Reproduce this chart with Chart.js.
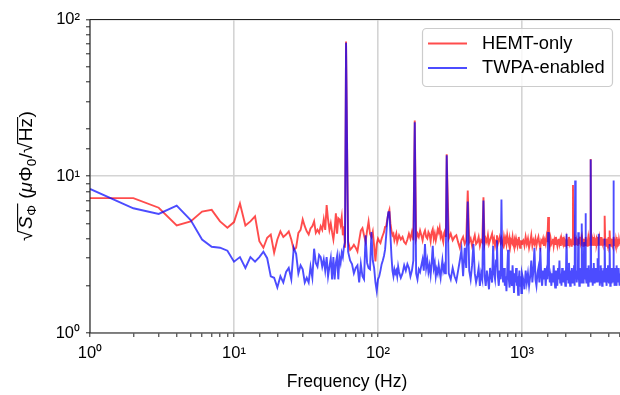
<!DOCTYPE html>
<html><head><meta charset="utf-8">
<script src="https://cdn.jsdelivr.net/npm/chart.js@4.4.1/dist/chart.umd.min.js"></script>
<style>html,body{margin:0;padding:0;background:#fff;}</style>
</head><body>
<canvas id="c" width="620" height="395"></canvas>
<script>
// Frequency bins (Hz)
const freqs = [
1,2,3,4,5,6,7,8,9,10,11,12,13,14,15,16,17,18,19,20,21,22,23,24,25,26,27,28,29,30,
31,32,33,34,35,36,37,38,39,40,41,42,43,44,45,46,47,48,49,50,51,52,53,54,55,56,57,58,59,60,
62,64,66,68,70,72,74,76,78,80,82,84,86,88,90,92,94,96,98,100,
102,104,106,108,110,112,114,116,118,120,122,124,126,128,130,132,134,136,138,140,
144,148,152,156,160,164,168,172,176,180,184,188,192,196,200,204,208,212,216,220,
224,228,232,236,240,244,248,252,256,260,264,268,272,276,280,284,288,292,296,300,
310,320,330,340,350,360,370,380,390,400,410,420,430,440,450,460,470,480,490,500,
510,520,530,540,550,560,570,580,590,600,610,620,630,640,650,660,670,680,690,700,
710,720,730,740,750,760,770,780,790,800,810,820,830,840,850,860,870,880,890,900,
910,920,930,940,950,960,970,980,990,1000,
1020,1040,1060,1080,1100,1120,1140,1160,1180,1200,1220,1240,1260,1280,1300,1320,1340,1360,1380,1400,
1420,1440,1460,1480,1500,1520,1540,1560,1580,1600,1620,1640,1660,1680,1700,1720,1740,1760,1780,1800,
1820,1840,1860,1880,1900,1920,1940,1960,1980,2000,2020,2040,2060,2080,2100,2120,2140,2160,2180,2200,
2220,2240,2260,2280,2300,2320,2340,2360,2380,2400,2420,2440,2460,2480,2500,2520,2540,2560,2580,2600,
2620,2640,2660,2680,2700,2720,2740,2760,2780,2800,2820,2840,2860,2880,2900,2920,2940,2960,2980,3000,
3020,3040,3060,3080,3100,3120,3140,3160,3180,3200,3220,3240,3260,3280,3300,3320,3340,3360,3380,3400,
3420,3440,3460,3480,3500,3520,3540,3560,3580,3600,3620,3640,3660,3680,3700,3720,3740,3760,3780,3800,
3820,3840,3860,3880,3900,3920,3940,3960,3980,4000,4020,4040,4060,4080,4100,4120,4140,4160,4180,4200,
4220,4240,4260,4280,4300,4320,4340,4360,4380,4400,4420,4440,4460,4480,4500,4520,4540,4560,4580,4600,
4620,4640,4660,4680,4700,4720,4740,4760,4780
];

// HEMT-only noise (muPhi0/sqrt(Hz))
const hemtOnly = [
7.25,7.25,6.3,4.85,5.15,5.95,6.1,5.15,4.7,5.1,
6.7,4.85,5.15,5.55,3.85,3.5,4.05,4.25,3.25,3.95,
4.45,4.1,4.25,4.45,3.95,3.4,3.5,4.35,4.55,5.3,
4.8,4.45,4.25,4.65,4.8,5.15,4.35,4.55,4.35,4.8,
4.55,5.3,4.55,6.55,5.3,4.55,5.0,4.4,3.95,4.6,
5.8,4.3,5.4,5.3,4.9,5.5,4.2,4.8,3.5,72.5,
3.83,3.39,3.5,3.65,3.5,3.31,3.9,4.5,4.67,4.2,
3.83,4.5,5.14,4.3,4.1,4.44,3.6,2.86,3.7,4.0,
3.85,3.75,4.0,4.2,4.4,4.75,4.8,5.3,5.8,6.1,
5.0,4.5,4.2,4.3,3.9,4.1,4.3,3.8,4.0,4.2,
3.95,4.1,3.8,3.7,3.95,4.3,4.0,4.4,3.9,22.7,
4.0,4.3,4.1,4.5,4.2,3.9,4.3,4.5,4.1,4.0,
4.4,4.25,3.85,4.4,4.6,4.0,4.3,3.9,4.2,4.6,
4.4,4.7,4.1,4.3,4.0,3.8,4.35,4.5,4.1,13.8,
4.0,4.3,3.9,4.1,4.2,3.8,3.5,3.9,4.1,3.7,
3.9,8.1,3.8,4.0,3.6,3.9,4.2,3.7,3.8,4.1,
3.6,3.9,3.8,7.35,3.7,4.0,3.8,4.2,3.7,3.9,
4.1,4.3,3.8,4.0,3.6,3.9,4.2,3.7,3.9,4.1,
3.8,4.0,3.7,3.6,4.1,3.8,4.0,3.7,4.2,3.9,
3.7,4.0,3.6,3.9,3.8,4.1,3.7,3.55,3.9,3.7,
4.0,3.8,3.6,3.9,4.1,3.7,3.5,3.9,3.7,3.8,
3.9,3.6,4.1,3.7,4.0,3.5,3.8,4.2,3.6,3.9,
3.7,4.0,3.6,3.9,4.1,3.7,3.5,3.9,3.8,4.0,
3.6,3.9,3.7,4.1,3.8,5.5,3.9,3.6,4.0,3.7,
3.8,4.0,3.6,3.9,3.7,4.1,3.8,3.6,3.9,4.0,
3.7,3.9,3.6,4.0,3.8,3.7,4.1,3.6,3.9,3.8,
3.7,4.0,3.8,3.6,3.9,4.1,3.7,3.8,4.0,3.6,
3.9,3.7,8.8,3.8,4.0,3.6,4.1,3.8,3.7,3.9,
3.8,3.6,4.0,3.7,3.9,3.8,4.1,3.6,3.9,3.7,
4.0,3.8,3.6,3.9,3.7,4.0,3.8,3.6,4.1,3.7,
3.9,3.6,3.8,4.0,3.7,3.9,3.6,3.8,4.0,12.9,
3.8,3.6,4.0,3.7,3.9,3.8,3.6,4.1,3.7,3.9,
3.8,3.6,3.9,4.0,3.7,3.8,3.6,4.1,3.9,3.7,
3.8,4.0,3.6,3.9,3.7,3.8,4.1,3.6,3.9,3.8,
3.7,4.0,3.8,3.6,3.9,3.7,3.8,5.6,4.0,3.7,
3.9,3.6,3.8,4.0,3.7,3.9,3.6,3.8,4.1,3.7,
3.8,3.6,3.9,4.5,3.7,3.8,4.0,3.6,3.9,3.8,
3.7,4.0,3.6,3.8,3.9,3.7,4.1,3.8,3.6,3.9,
3.8,3.7,4.0,3.6,3.9,3.8,3.7,4.1,3.6,3.8,
3.9,3.7,3.8,4.0,3.6,3.9,3.7,3.8,4.0
];

// TWPA-enabled noise (muPhi0/sqrt(Hz))
const twpaEnabled = [
8.3,6.25,5.75,6.5,5.25,3.95,3.55,3.5,3.35,2.85,
3.05,2.6,3.05,2.85,3.05,3.3,3.0,2.3,2.25,1.95,
2.3,2.1,2.45,2.6,2.2,3.5,3.2,2.4,2.7,2.55,
2.1,2.25,2.1,2.65,2.25,3.45,2.8,2.65,3.15,3.05,
2.65,2.95,2.5,3.05,2.3,2.65,3.0,2.2,3.05,2.2,
2.8,3.1,2.2,3.05,2.8,3.25,3.05,3.55,3.8,71,
3.3,2.9,2.75,2.4,2.6,2.7,2.1,2.75,2.3,2.2,
4.2,2.8,2.6,2.55,4.4,2.9,2.6,2.1,1.85,2.2,
2.3,2.5,2.75,2.9,3.1,3.4,4.2,5.2,5.9,5.9,
4.2,3.1,2.5,2.3,2.55,2.4,2.5,2.3,2.65,2.45,
2.25,2.4,2.7,2.5,2.75,2.6,2.3,2.5,2.9,22.1,
2.4,2.2,2.55,2.45,2.7,2.95,2.5,3.7,2.6,2.9,
2.45,2.7,2.35,2.8,3.6,2.6,2.8,2.3,2.55,2.4,
2.7,2.45,2.25,2.6,2.9,2.5,2.65,2.4,3.1,13.6,
2.4,2.2,2.6,2.3,2.15,2.5,2.9,3.4,2.3,3.5,
2.6,6.9,2.5,2.2,2.7,3.7,2.4,2.1,2.3,2.6,
2.0,2.4,2.2,7.0,2.3,2.0,2.5,2.2,1.9,2.6,
2.3,2.1,3.6,2.4,2.2,2.9,3.9,2.3,2.0,2.5,
2.2,7.1,2.4,2.1,2.6,2.0,2.3,1.85,2.5,3.4,
2.2,1.95,2.5,2.3,2.0,2.7,2.2,1.8,2.4,2.1,
2.6,2.0,2.3,1.75,2.2,2.5,2.0,2.3,1.8,2.4,
2.2,1.9,2.5,2.1,2.4,2.0,2.3,2.9,2.1,2.5,
3.5,2.2,2.0,2.4,2.6,2.1,3.5,2.3,2.0,2.5,
2.2,2.6,2.0,2.4,2.2,4.4,2.5,2.1,2.3,2.0,
2.4,2.1,2.7,2.2,1.95,2.5,2.3,2.0,2.6,2.2,
2.9,2.1,2.4,2.0,2.6,2.3,2.1,2.5,2.2,2.0,
2.4,4.3,2.2,2.6,2.1,2.8,2.3,2.0,2.5,2.2,
2.6,2.1,2.4,2.2,2.7,2.0,9.4,2.3,2.5,2.1,
2.4,2.2,4.4,2.3,2.0,2.6,2.2,2.5,2.1,5.0,
2.3,2.6,2.1,2.4,3.8,2.2,2.5,5.8,2.3,2.1,
2.6,2.2,2.4,2.0,2.7,2.3,2.1,2.5,2.2,12.8,
2.4,2.1,2.6,2.3,2.0,2.5,2.2,2.8,2.1,2.4,
2.3,2.6,2.1,2.4,2.2,2.5,3.0,2.1,2.3,4.3,
2.2,2.5,2.0,2.4,2.2,2.7,2.1,2.3,2.6,2.0,
2.4,2.2,2.5,2.1,2.3,2.6,2.2,4.0,2.4,2.1,
2.5,2.2,2.0,2.6,2.3,2.1,2.4,2.7,2.2,2.5,
2.1,2.4,2.2,3.7,2.0,2.5,2.3,2.1,2.6,2.2,
2.4,2.2,2.6,2.1,2.3,9.4,2.5,2.2,2.0,2.4,
2.3,2.6,2.1,2.5,2.2,2.4,2.0,2.7,2.3,2.1,
2.5,2.2,2.4,2.1,2.6,2.3,2.0,2.4,2.2
];

const seriesLabels = ['HEMT-only', 'TWPA-enabled'];
const xRange = [1, 4793];
const yRange = [1, 100];

const FAM = '"Liberation Sans", Arial, Helvetica, sans-serif';
Chart.defaults.font.family = FAM;
Chart.defaults.color = '#000';

const SUP = {'0':'\u2070','1':'\u00B9','2':'\u00B2','3':'\u00B3','4':'\u2074'};
function isPow10(v){ const e = Math.log10(v); return Math.abs(e - Math.round(e)) < 1e-9; }
function powLabel(v){ return isPow10(v) ? '10' + SUP[String(Math.round(Math.log10(v)))] : ''; }

const RED = 'rgba(255,0,0,0.7)';
const BLUE = 'rgba(0,0,255,0.7)';

function fnt(size, italic){ return (italic ? 'italic ' : '') + size + 'px ' + FAM; }

const decor = {
  id: 'decor',
  afterDatasetsDraw(chart){
    const {ctx, chartArea:a} = chart;
    ctx.save();
    ctx.strokeStyle = '#222';
    ctx.lineWidth = 1.1;
    ctx.beginPath();
    ctx.moveTo(a.left, a.top); ctx.lineTo(a.right + 2, a.top);
    ctx.moveTo(a.left, a.top); ctx.lineTo(a.left, a.bottom);
    ctx.lineTo(a.right + 2, a.bottom);
    ctx.stroke();
    ctx.restore();
  },
  afterDraw(chart){
    const {ctx} = chart;
    // x title
    ctx.save();
    ctx.fillStyle = '#000';
    ctx.font = fnt(17.5);
    ctx.textAlign = 'center';
    ctx.textBaseline = 'middle';
    ctx.fillText('Frequency (Hz)', 347, 382);
    ctx.restore();

    // y title: sqrt(S_Phi) (mu Phi_0 / sqrt(Hz))
    // [text, size, italic, dy, overline group, extra gap after]
    const parts = [
      ['\u221A',19,false,0,0,1.5],
      ['S',19,true,0,1,0.5],
      ['\u03A6',13.5,false,4,1,1],
      [' (',19,false,0,0,0],
      ['\u03BC',19,true,0,0,0.5],
      ['\u03A6',19,false,0,0,0],
      ['0',13.5,false,4,0,0.5],
      ['/',19,false,0,0,0],
      ['\u221A',19,false,0,0,1.5],
      ['Hz',19,false,0,2,0.5],
      [')',19,false,0,0,0]
    ];
    ctx.save();
    ctx.translate(32, 176);
    ctx.rotate(-Math.PI/2);
    ctx.fillStyle = '#000';
    ctx.textBaseline = 'alphabetic';
    ctx.textAlign = 'left';
    let total = 0;
    const ws = parts.map(p => { ctx.font = fnt(p[1], p[2]); const w = ctx.measureText(p[0]).width + p[5]; total += w; return w; });
    ctx.font = fnt(19);
    const radTop = ctx.measureText('\u221A').actualBoundingBoxAscent || 14.5;
    let x = -total/2;
    const groups = {};
    parts.forEach((p, i) => {
      ctx.font = fnt(p[1], p[2]);
      ctx.fillText(p[0], x, p[3]);
      if (p[4]) {
        if (!groups[p[4]]) groups[p[4]] = [x, x + ws[i]];
        else groups[p[4]][1] = x + ws[i];
      }
      x += ws[i];
    });
    ctx.strokeStyle = '#000';
    ctx.lineWidth = 1.1;
    Object.values(groups).forEach(g => {
      ctx.beginPath();
      ctx.moveTo(g[0] - 2, -radTop + 0.6);
      ctx.lineTo(g[1] + 0.5, -radTop + 0.6);
      ctx.stroke();
    });
    ctx.restore();

    // legend
    ctx.save();
    const lx = 422.5, ly = 28.5, lw = 190, lh = 58, r = 4;
    ctx.beginPath();
    ctx.moveTo(lx + r, ly);
    ctx.arcTo(lx + lw, ly, lx + lw, ly + lh, r);
    ctx.arcTo(lx + lw, ly + lh, lx, ly + lh, r);
    ctx.arcTo(lx, ly + lh, lx, ly, r);
    ctx.arcTo(lx, ly, lx + lw, ly, r);
    ctx.closePath();
    ctx.fillStyle = 'rgba(255,255,255,0.8)';
    ctx.fill();
    ctx.strokeStyle = '#cccccc';
    ctx.lineWidth = 1.2;
    ctx.stroke();
    const dsets = chart.data.datasets;
    dsets.forEach((ds, i) => {
      const yy = 43.5 + i * 24.5;
      ctx.strokeStyle = ds.borderColor;
      ctx.lineWidth = ds.borderWidth;
      ctx.beginPath(); ctx.moveTo(428, yy); ctx.lineTo(467, yy); ctx.stroke();
      ctx.fillStyle = '#000';
      ctx.font = fnt(18.3);
      ctx.textAlign = 'left';
      ctx.textBaseline = 'middle';
      ctx.fillText(ds.label, 482, yy);
    });
    ctx.restore();
  }
};

const gridColor = c => (c.tick && isPow10(c.tick.value)) ? '#d4d4d4' : 'rgba(0,0,0,0)';

new Chart(document.getElementById('c'), {
  type: 'line',
  data: {
    datasets: [
      { label: seriesLabels[0], data: freqs.map((f, i) => ({x: f, y: hemtOnly[i]})),
        borderColor: RED, backgroundColor: RED, borderWidth: 1.9, pointRadius: 0, tension: 0, order: 1 },
      { label: seriesLabels[1], data: freqs.map((f, i) => ({x: f, y: twpaEnabled[i]})),
        borderColor: BLUE, backgroundColor: BLUE, borderWidth: 1.9, pointRadius: 0, tension: 0, order: 0 }
    ]
  },
  options: {
    responsive: false,
    animation: false,
    devicePixelRatio: 1,
    events: [],
    layout: { padding: { top: 19.5, left: 0, right: 0, bottom: 0 } },
    plugins: { legend: { display: false }, tooltip: { enabled: false }, title: { display: false } },
    scales: {
      x: {
        type: 'logarithmic', position: 'bottom', min: xRange[0], max: xRange[1],
        afterFit: s => { s.height = 62; s.paddingLeft = 0; s.paddingRight = 0; },
        border: { display: false },
        grid: { color: gridColor, lineWidth: 1.6, tickColor: '#222', tickLength: 4, tickWidth: 1 },
        ticks: { callback: v => powLabel(v), autoSkip: false, maxRotation: 0, minRotation: 0,
                 padding: 7, font: { size: 16.5 }, color: '#000' }
      },
      y: {
        type: 'logarithmic', position: 'left', min: yRange[0], max: yRange[1],
        afterFit: s => { s.width = 90; s.paddingTop = 0; s.paddingBottom = 0; },
        border: { display: false },
        grid: { color: gridColor, lineWidth: 1.6, tickColor: '#222', tickLength: 4, tickWidth: 1 },
        ticks: { callback: v => powLabel(v), autoSkip: false, padding: 6, font: { size: 16.5 }, color: '#000' }
      }
    }
  },
  plugins: [decor]
});
</script>
</body></html>
